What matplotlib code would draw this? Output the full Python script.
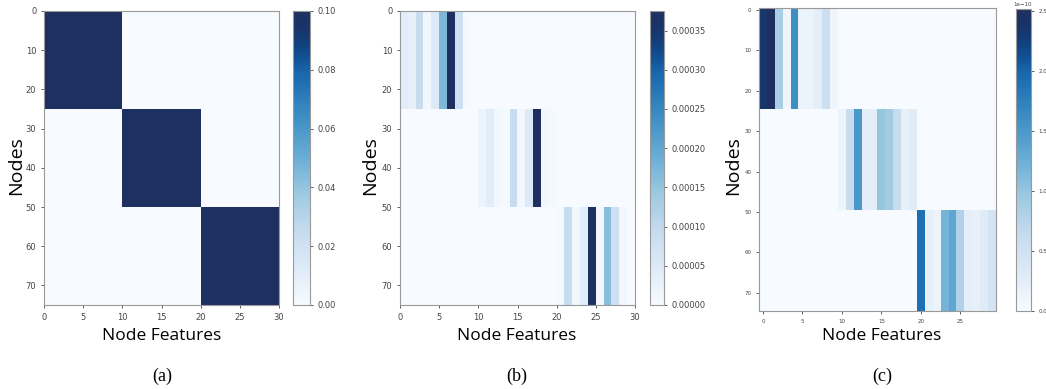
import numpy as np
import matplotlib
matplotlib.use("Agg")
from matplotlib import pyplot as plt
from matplotlib.colors import ListedColormap

# node -> block (25 nodes per block), feature -> block (10 features per block)
n_nodes = 75
n_feats = 30
node_block = [0] * 25 + [1] * 25 + [2] * 25
feat_block = [0] * 10 + [1] * 10 + [2] * 10

# (a) ideal block structure
a_value = 0.1

# (b) per-feature weights
b_feat = [0.00004, 0.00003, 0.00009, 0.00001, 0.00005, 0.00017, 0.000375, 0.00008, 0.000005, 0.0,
          0.00002, 0.00004, 0.00001, 0.000005, 0.00009, 0.00001, 0.00005, 0.000375, 0.00001, 0.000005,
          0.000005, 0.00009, 0.00001, 0.00004, 0.000375, 0.00001, 0.00016, 0.00008, 0.00001, 0.0]

# (c) per-feature weights (x 1e-10)
c_feat = [2.35, 2.52, 0.85, 0.1, 1.6, 0.15, 0.15, 0.25, 0.55, 0.1,
          0.15, 0.6, 1.5, 0.25, 0.25, 1.0, 0.9, 0.6, 0.2, 0.3,
          1.9, 0.2, 0.15, 1.2, 1.35, 0.8, 0.25, 0.2, 0.3, 0.45]


def block_matrix(feat_vals):
    m = np.zeros((n_nodes, n_feats))
    for i in range(n_nodes):
        for j in range(n_feats):
            if node_block[i] == feat_block[j]:
                m[i, j] = feat_vals[j]
    return m


mat_a = block_matrix([a_value] * n_feats)
mat_b = block_matrix(b_feat)
mat_c = block_matrix(c_feat) * 1e-10

# Blues, with the dark end pulled toward the duller navy of the original
base = plt.get_cmap("Blues")(np.linspace(0, 1, 256))
navy = np.array([0.12, 0.19, 0.38, 1.0])
t = np.linspace(0, 1, 256)
w = np.clip((t - 0.8) / 0.2, 0, 1)[:, None]
cmap = ListedColormap(base * (1 - w) + navy * w)

W, H = 1046, 389
fig = plt.figure(figsize=(W / 100, H / 100), dpi=100)


def box(x0, y0, x1, y1):
    return [x0 / W, 1 - y1 / H, (x1 - x0) / W, (y1 - y0) / H]


lab_font = dict(family="Open Sans", fontsize=12.5)
nodes_font = dict(family="Open Sans", fontsize=14)
cap_font = dict(family="Liberation Serif", fontsize=13)
tick_col = "#444444"
spine_col = "#999999"


def style(ax, size):
    for s in ax.spines.values():
        s.set_color(spine_col)
    ax.tick_params(labelsize=size, colors=tick_col, length=2, width=0.6)


panels = [
    dict(m=mat_a, ax=(44, 11, 279, 305), cb=(293, 11, 310, 305), vmax=0.1,
         extent=(0, 30, 75, 0), cx=162, lx=16, tag="(a)", ts=6),
    dict(m=mat_b, ax=(400, 11, 635, 305), cb=(650, 11, 664, 305), vmax=0.000375,
         extent=(0, 30, 75, 0), cx=517, lx=370, tag="(b)", ts=6),
    dict(m=mat_c, ax=(759, 8, 996, 311), cb=(1016, 9, 1031, 311), vmax=2.52e-10,
         extent=None, cx=882, lx=733, tag="(c)", ts=4),
]

for p in panels:
    ax = fig.add_axes(box(*p["ax"]))
    im = ax.imshow(p["m"], cmap=cmap, vmin=0, vmax=p["vmax"], aspect="auto",
                   extent=p["extent"], interpolation="nearest")
    if p["extent"] is not None:
        ax.set_xticks([0, 5, 10, 15, 20, 25, 30])
    else:
        ax.set_xticks([0, 5, 10, 15, 20, 25])
    ax.set_yticks([0, 10, 20, 30, 40, 50, 60, 70])
    style(ax, p["ts"])
    cax = fig.add_axes(box(*p["cb"]))
    cb = fig.colorbar(im, cax=cax)
    cb.outline.set_edgecolor(spine_col)
    style(cax, p["ts"])
    if p["tag"] == "(a)":
        cb.set_ticks([0, 0.02, 0.04, 0.06, 0.08, 0.10])
        cb.ax.set_yticklabels(["%.2f" % v for v in cb.get_ticks()])
    if p["tag"] == "(b)":
        cb.set_ticks([0, 0.00005, 0.0001, 0.00015, 0.0002, 0.00025, 0.0003, 0.00035])
        cb.ax.set_yticklabels(["%.5f" % v for v in cb.get_ticks()])
    if p["tag"] == "(c)":
        cb.set_ticks([0, 0.5e-10, 1.0e-10, 1.5e-10, 2.0e-10, 2.5e-10])
        cb.ax.set_yticklabels(["%.1f" % (v * 1e10) for v in cb.get_ticks()])
        fig.text(1023 / W, 1 - 4 / H, "1e\u221210", ha="center", va="center",
                 fontsize=4, color=tick_col)
    fig.text(p["cx"] / W, 1 - 336 / H, "Node Features", ha="center", va="center", **lab_font)
    fig.text(p["lx"] / W, 1 - 166 / H, "Nodes", ha="center", va="center", rotation=90, **nodes_font)
    fig.text(p["cx"] / W, 1 - 376 / H, p["tag"], ha="center", va="center", **cap_font)

fig.savefig("out.png", dpi=100)
